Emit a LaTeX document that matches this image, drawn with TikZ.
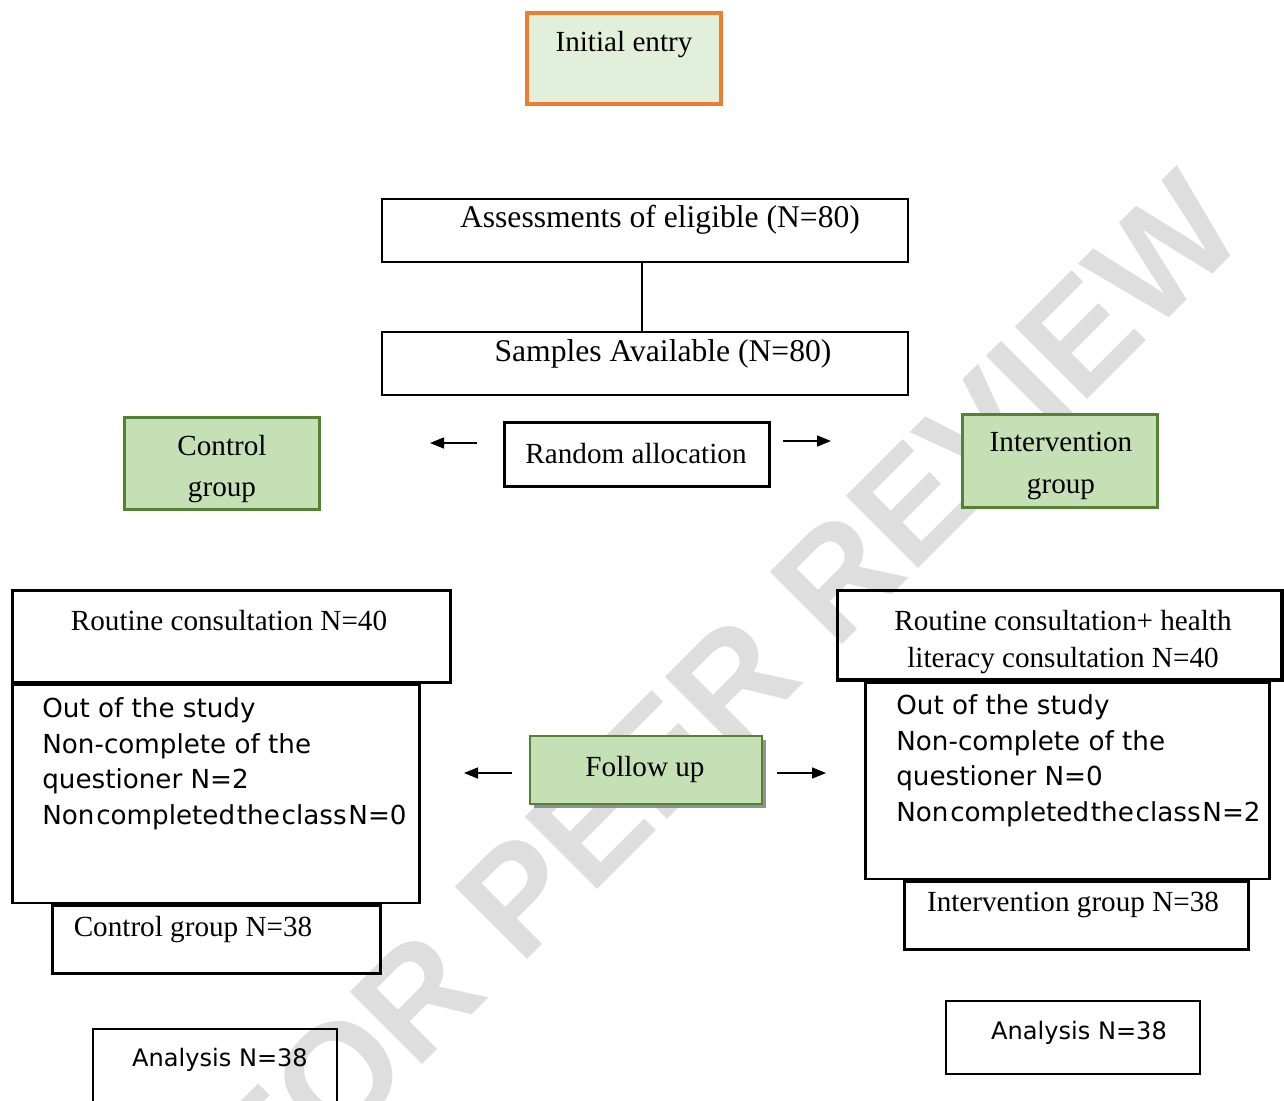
\documentclass[tikz,border=0pt]{standalone}
\usepackage{fontspec}
\setmainfont{Liberation Serif}
\newfontfamily\sansf{DejaVu Sans}
\newfontfamily\wmf{Liberation Sans}
\usetikzlibrary{arrows.meta,shadows}
\definecolor{orangeB}{HTML}{ED7D31}
\definecolor{paleG}{HTML}{E2EFDA}
\definecolor{midG}{HTML}{C5E0B4}
\definecolor{darkG}{HTML}{548235}
\definecolor{wm}{RGB}{222,222,222}
\begin{document}
\begin{tikzpicture}[x=0.02cm,y=-0.02cm,
  wh/.style 2 args={minimum width=#1*0.2mm, minimum height=#2*0.2mm, inner sep=0pt},
  plain/.style={draw=black, line width=1.1pt},
  heavy/.style={draw=black, line width=2pt},
  greenbox/.style={draw=darkG, fill=midG, line width=1.7pt},
  ser/.style={inner sep=0pt, font=\fontsize{16.6}{23.8}\selectfont},
  serbig/.style={inner sep=0pt, font=\fontsize{18}{22}\selectfont},
  sanstxt/.style={font=\sansf\fontsize{14.9}{20.4}\selectfont, align=left, inner sep=0pt, anchor=north west},
  sanssm/.style={inner sep=0pt, font=\sansf\fontsize{13.7}{16}\selectfont},
  arr/.style={line width=0.9pt, -{Triangle[length=2.8mm,width=2.2mm]}}
]
\useasboundingbox (0,0) rectangle (1284,1100);
\clip (0,0) rectangle (1284,1100);

% watermark
\node[font=\wmf\bfseries\fontsize{84.5}{90}\selectfont, text=wm, rotate=45, anchor=base, inner sep=0pt] (wmk) at (760,727) {FOR PEER REVIEW};

% top
\node[draw=orangeB, fill=paleG, line width=2.2pt, wh={194}{91}] (init) at (624,58.5) {};
\node[ser] (initT) at (624,45) {Initial entry};

\node[plain, wh={526}{63}] (assess) at (645,230.5) {};
\node[serbig] (assessT) at (660,220) {Assessments of eligible (N=80)};
\node[plain, wh={526}{63}] (samp) at (645,363.5) {};
\node[serbig] (sampT) at (663,354) {Samples Available (N=80)};
\draw[line width=1.2pt] ([xshift=-0.6mm]assess.south) -- ([xshift=-0.6mm]samp.north);

\node[heavy, wh={265}{64}] (rand) at (637,454.5) {};
\node[ser] (randT) at (636,454) {Random allocation};

\node[greenbox, wh={195}{92}] (ctrl) at (222,463.5) {};
\node[ser, align=center] (ctrlT) at (222,469) {Control\\group};
\node[greenbox, wh={195}{93}] (intv) at (1060,461) {};
\node[ser, align=center] (intvT) at (1061,466) {Intervention\\group};

\coordinate (ra1) at (477,443); \coordinate (ra2) at (430,443);
\coordinate (rb1) at (783,441); \coordinate (rb2) at (831,441);
\draw[arr] (ra1) -- (ra2);
\draw[arr] (rb1) -- (rb2);

% left column
\node[draw=black, line width=2.2pt, wh={438}{92}] (routL) at (231.5,636.5) {};
\node[ser] (routLT) at (229,621) {Routine consultation N=40};
\node[draw=black, line width=1.7pt, wh={408}{219}] (outL) at (216,793.5) {};
\node[sanstxt] (outLT) at (42,697) {Out of the study\\Non-complete of the\\questioner N=2\\Non\hspace{1pt}completed\hspace{1pt}the\hspace{1pt}class\hspace{1pt}N=0};
\node[draw=black, line width=1.7pt, wh={329}{68}] (ctrlN) at (216.5,939) {};
\node[ser] (ctrlNT) at (193,930) {Control group N=38};
\node[draw=black, line width=1.2pt, wh={244}{81}] (analL) at (215,1069.5) {};
\node[sanssm] (analLT) at (220,1060) {Analysis N=38};

% follow up
\node[greenbox, line width=1.4pt, wh={232}{68}, drop shadow={shadow xshift=0.8mm, shadow yshift=-0.8mm, fill=black!50, opacity=0.85}] (foll) at (646,770) {};
\node[ser] (follT) at (645,769) {Follow up};
\coordinate (fa1) at (512,773); \coordinate (fa2) at (464,773);
\coordinate (fb1) at (777,773); \coordinate (fb2) at (826,773);
\draw[arr] (fa1) -- (fa2);
\draw[arr] (fb1) -- (fb2);

% right column
\node[draw=black, line width=2.2pt, wh={444.5}{89.5}] (routR) at (1059.75,635.25) {};
\node[ser, align=center, font=\fontsize{16.6}{21}\selectfont] (routRT) at (1063,642) {Routine consultation+ health\\literacy consultation N=40};
\node[draw=black, line width=1.7pt, wh={405}{197}] (outR) at (1067.5,780.5) {};
\node[sanstxt] (outRT) at (896,694) {Out of the study\\Non-complete of the\\questioner N=0\\Non\hspace{1pt}completed\hspace{1pt}the\hspace{1pt}class\hspace{1pt}N=2};
\node[draw=black, line width=1.7pt, wh={345}{68}] (intN) at (1076.5,915) {};
\node[ser] (intNT) at (1073,905) {Intervention group N=38};
\node[draw=black, line width=1.2pt, wh={254}{73}] (analR) at (1073,1037.5) {};
\node[sanssm] (analRT) at (1079,1033) {Analysis N=38};
\end{tikzpicture}
\end{document}
